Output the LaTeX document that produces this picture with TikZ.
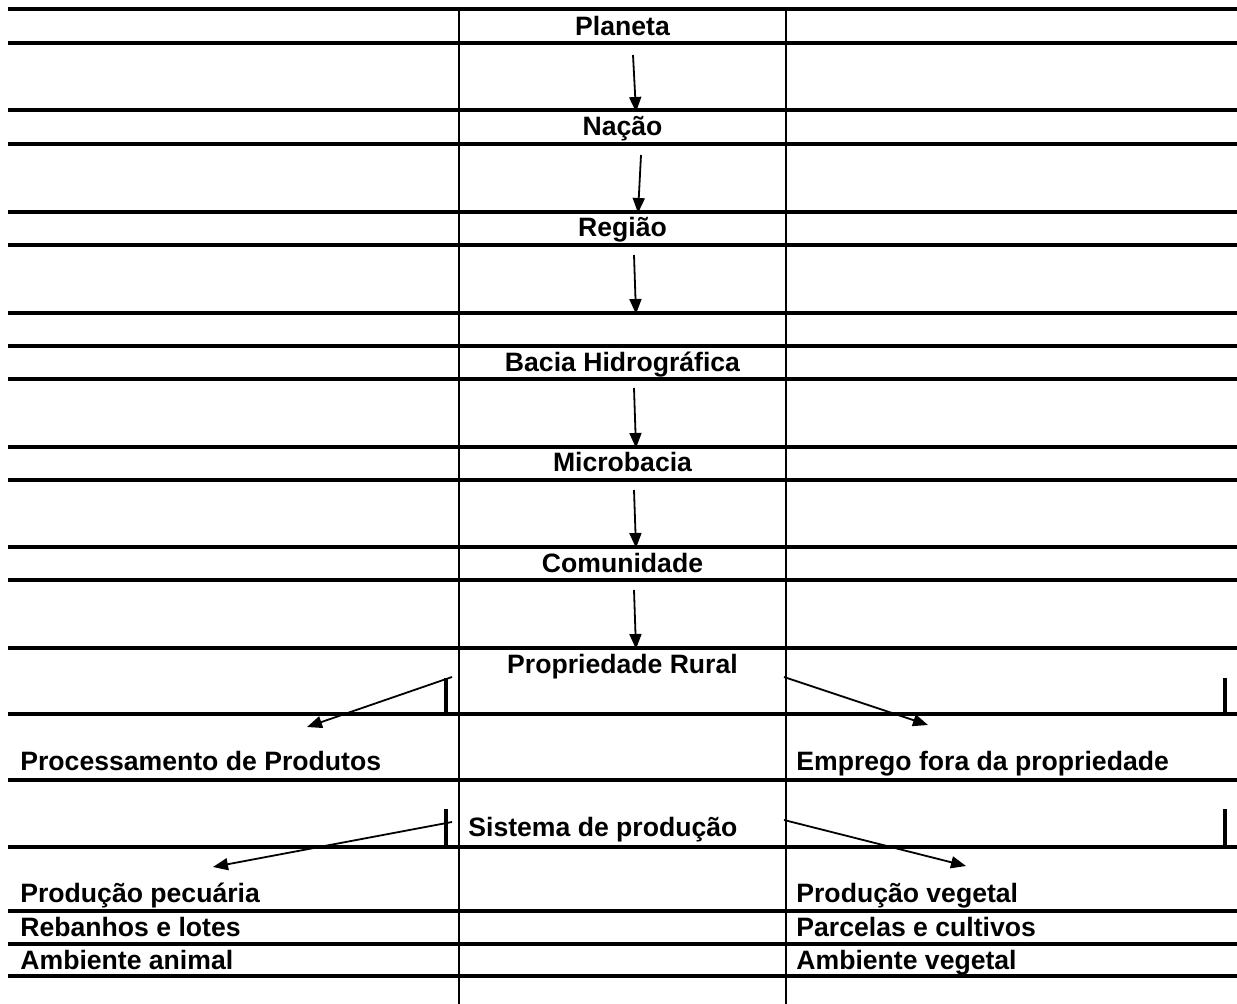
\documentclass[tikz,border=0pt]{standalone}
\usepackage{fontspec}
\setmainfont{Liberation Sans}
\usetikzlibrary{arrows.meta}

\tikzset{
    rule/.style={line width=1.8pt},
    colrule/.style={line width=1.2pt},
    stub/.style={line width=1.6pt},
    level/.style={inner sep=0pt, anchor=base, font=\fontsize{13.3}{15}\selectfont\bfseries},
    item/.style={inner sep=0pt, anchor=base west, font=\fontsize{13.3}{15}\selectfont\bfseries},
    down/.style={line width=0.9pt, -{Triangle[length=7.5pt,width=6pt]}},
}

\begin{document}
\begin{tikzpicture}[x=0.5pt,y=-0.5pt]
    \useasboundingbox (0,0) rectangle (1237,1004);

    % table rules
    \foreach \y in {9,43,110,144,212,245,313,346,379,447,480,547,580,648,714,780,847,911,944,976}
        \draw [rule] (8,\y) -- (1237,\y);
    \draw [colrule] (459,9) -- (459,1004);
    \draw [colrule] (786,9) -- (786,1004);
    \draw [stub] (446,678) -- (446,714);
    \draw [stub] (446,809) -- (446,847);
    \draw [stub] (1225,678) -- (1225,714);
    \draw [stub] (1225,809) -- (1225,847);

    % levels
    \node [level] (planeta) at (622.5,36) {Planeta};
    \node [level] (nacao) at (622.5,136) {Nação};
    \node [level] (regiao) at (622.5,237) {Região};
    \node [level] (bacia) at (622.5,372) {Bacia Hidrográfica};
    \node [level] (micro) at (622.5,472) {Microbacia};
    \node [level] (comun) at (622.5,573) {Comunidade};
    \node [level] (prop) at (622.5,674) {Propriedade Rural};
    \node [item] (proc) at (20,771) {Processamento de Produtos};
    \node [item] (empr) at (796,771) {Emprego fora da propriedade};
    \node [item] (sist) at (468,836) {Sistema de produção};
    \node [item] (pecu) at (20,902) {Produção pecuária};
    \node [item] (reba) at (20,936) {Rebanhos e lotes};
    \node [item] (aani) at (20,969) {Ambiente animal};
    \node [item] (vege) at (796,902) {Produção vegetal};
    \node [item] (parc) at (796,936) {Parcelas e cultivos};
    \node [item] (aveg) at (796,969) {Ambiente vegetal};

    % arrow ends
    \coordinate (planeta-out) at (633,55);
    \coordinate (nacao-in) at (636,112);
    \coordinate (nacao-out) at (641,155);
    \coordinate (regiao-in) at (638,213);
    \coordinate (regiao-out) at (634,255);
    \coordinate (bacia-in) at (636,314);
    \coordinate (bacia-out) at (634,388);
    \coordinate (micro-in) at (636,448);
    \coordinate (micro-out) at (634,490);
    \coordinate (comun-in) at (636,548);
    \coordinate (comun-out) at (634,590);
    \coordinate (prop-in) at (636,649);
    \coordinate (prop-west) at (452,677);
    \coordinate (prop-east) at (784,677);
    \coordinate (proc-in) at (307,727);
    \coordinate (empr-in) at (928,725);
    \coordinate (sist-west) at (452,822);
    \coordinate (sist-east) at (784,820);
    \coordinate (pecu-in) at (213,867);
    \coordinate (vege-in) at (966,866);

    \draw [down] (planeta-out) -- (nacao-in);
    \draw [down] (nacao-out) -- (regiao-in);
    \draw [down] (regiao-out) -- (bacia-in);
    \draw [down] (bacia-out) -- (micro-in);
    \draw [down] (micro-out) -- (comun-in);
    \draw [down] (comun-out) -- (prop-in);
    \draw [down] (prop-west) -- (proc-in);
    \draw [down] (prop-east) -- (empr-in);
    \draw [down] (sist-west) -- (pecu-in);
    \draw [down] (sist-east) -- (vege-in);
\end{tikzpicture}
\end{document}
